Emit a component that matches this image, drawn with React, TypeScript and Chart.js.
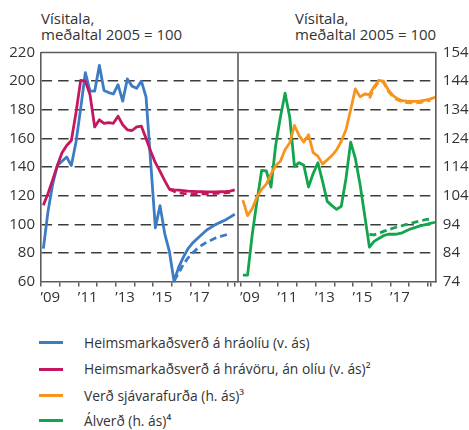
import React, { useEffect, useRef } from 'react';
import { Chart, registerables } from 'chart.js';

Chart.register(...registerables);

// ---- categories ----
const years = [2009, 2010, 2011, 2012, 2013, 2014, 2015, 2016, 2017, 2018, 2019];
const quarters: string[] = years
  .flatMap((y) => [1, 2, 3, 4].map((q) => `${y}Q${q}`))
  .slice(0, 42); // 2009Q1 .. 2019Q2

const labelYears = [2009, 2011, 2013, 2015, 2017];
const yearLabels = ['’09', '’11', '’13', '’15', '’17'];

const leftTicks = [60, 80, 100, 120, 140, 160, 180, 200, 220];
const rightTicks = [74, 84, 94, 104, 114, 124, 134, 144, 154];

// ---- series (quarterly, index 2005 = 100) ----
// Heimsmarkaðsverð á hráolíu (left axis)
const oil = [
  83, 109, 128, 141, 144, 147, 141, 157.5, 181, 206, 193, 193, 211, 193.5, 192, 191,
  197.5, 186, 201.5, 196.5, 195, 200, 189, 143, 97.5, 113, 93.5, 81, 60.2, 70, 77, 83,
  87, 90, 93, 96, 98, 100, 101.5, 103, 105, 107,
];
const oilPrev = [
  null, null, null, null, null, null, null, null, null, null, null, null, null, null, null, null,
  null, null, null, null, null, null, null, null, null, null, null, null, 60.5, 66, 72, 76.5,
  80, 83, 85.5, 87.5, 89, 90.5, 91.5, 92.5, 93.5, null,
];
// Heimsmarkaðsverð á hrávöru, án olíu (left axis)
const commodities = [
  113.3, 121.5, 131, 141, 150, 155, 158.5, 178, 200.5, 200, 190.5, 168, 173, 170.5, 171, 170.5,
  175.5, 169.5, 166, 165.5, 168, 168.5, 160, 151, 143, 137, 130.5, 124.5, 124, 123.8, 123.5, 123.2,
  123, 122.8, 122.7, 122.6, 122.6, 122.6, 122.7, 122.8, 123.2, 124,
];
const commoditiesPrev = [
  null, null, null, null, null, null, null, null, null, null, null, null, null, null, null, null,
  null, null, null, null, null, null, null, null, null, null, null, 124.5, 123, 122, 121.5, 121.3,
  121.2, 121.2, 121.2, 121.3, 121.4, 121.6, 121.8, 122, 122.3, null,
];
// Verð sjávarafurða (right axis)
const seafood = [
  102.4, 97, 99.5, 103.5, 106.2, 108, 111.5, 114.5, 116, 120, 122.5, 128.5, 125, 122.7, 125.3, 119,
  117.8, 115, 116.5, 118, 120, 123, 127, 134, 141.3, 138.5, 139.5, 139.3, 142, 144.3, 144, 141,
  139, 137.8, 137.2, 137, 136.9, 136.9, 137.1, 137.4, 137.8, 138.3,
];
const seafoodPrev = [
  null, null, null, null, null, null, null, null, null, null, null, null, null, null, null, null,
  null, null, null, null, null, null, null, null, null, null, null, 138, 141.5, 143.8, 143.6, 140.5,
  138.6, 137.5, 136.8, 136.5, 136.4, 136.4, 136.6, 136.9, 137.3, null,
];
// Álverð (right axis)
const aluminium = [
  76.2, 76.2, 90.5, 102, 112.8, 112.6, 107, 121.6, 131.4, 139.8, 131.4, 114.2, 115.5, 114.6, 107, 111.7,
  115.5, 109, 102, 100.5, 99.2, 100.3, 110, 122.7, 117, 108, 97, 86, 88, 89, 90, 90.5,
  90.5, 90.6, 91, 91.8, 92.5, 93, 93.5, 93.9, 94.3, 94.7,
];
const aluminiumPrev = [
  null, null, null, null, null, null, null, null, null, null, null, null, null, null, null, null,
  null, null, null, null, null, null, null, null, null, null, null, 90.5, 90.3, 90.8, 91.5, 92,
  92.6, 93.1, 93.5, 94, 94.4, 94.8, 95.2, 95.6, 95.9, null,
];

const legendItems = [
  { label: 'Heimsmarkaðsverð á hráolíu (v. ás)', color: '#3b7cc4' },
  { label: 'Heimsmarkaðsverð á hrávöru, án olíu (v. ás)²', color: '#c5175f' },
  { label: 'Verð sjávarafurða (h. ás)³', color: '#f7941d' },
  { label: 'Álverð (h. ás)⁴', color: '#13a54d' },
];

const FONT = "'Open Sans', sans-serif";
const AXIS = '#5c5c5c';
const GRID = '#3c3c3c';
const TEXT = '#333333';

function qx(label: string) {
  const [y, q] = label.split('Q').map(Number);
  return y + (q - 0.5) / 4;
}
function points(values: (number | null)[]) {
  return values.map((v, i) => ({ x: qx(quarters[i]), y: v }));
}
function line(values: (number | null)[], color: string, dashed: boolean) {
  return {
    data: points(values),
    borderColor: color,
    backgroundColor: color,
    borderWidth: 2.8,
    borderDash: dashed ? [7, 4] : [],
    borderJoinStyle: 'round' as const,
    pointRadius: 0,
    tension: 0,
    spanGaps: false,
    clip: 3,
  };
}

const framePlugin = {
  id: 'frame',
  beforeDatasetsDraw(chart: any, _args: any, opts: any) {
    const { ctx, chartArea: a } = chart;
    ctx.save();
    ctx.strokeStyle = AXIS;
    ctx.lineWidth = 1.6;
    ctx.beginPath();
    ctx.moveTo(a.left, a.top);
    ctx.lineTo(a.right, a.top);
    if (opts && opts.right) {
      ctx.moveTo(a.right, a.top);
      ctx.lineTo(a.right, a.bottom);
    }
    ctx.stroke();
    ctx.restore();
  },
};

function xScale(min: number, max: number, extra: number[]) {
  const tickVals = years.filter((y) => y >= min && y <= max).concat(extra);
  const labelVals = labelYears.map((y) => y + 0.5);
  const all = tickVals.concat(labelVals).sort((a, b) => a - b);
  return {
    type: 'linear' as const,
    min,
    max,
    afterBuildTicks: (s: any) => {
      s.ticks = all.map((v) => ({ value: v }));
    },
    afterFit: (s: any) => {
      s.height = 28.5;
    },
    grid: {
      drawOnChartArea: false,
      drawTicks: true,
      tickLength: 5,
      tickWidth: 1.5,
      lineWidth: 1.5,
      tickColor: (c: any) =>
        c.tick && labelVals.includes(c.tick.value) ? 'rgba(0,0,0,0)' : AXIS,
    },
    border: { display: true, color: AXIS, width: 1.6 },
    ticks: {
      autoSkip: false,
      maxRotation: 0,
      minRotation: 0,
      padding: 2,
      color: TEXT,
      font: { family: FONT, size: 15 },
      callback: (v: any) => {
        const i = labelVals.indexOf(Number(v));
        return i >= 0 ? yearLabels[i] : '';
      },
    },
  };
}

function yScale(min: number, max: number, ticks: number[], position: 'left' | 'right', width: number, padding: number) {
  return {
    type: 'linear' as const,
    position,
    min,
    max,
    afterBuildTicks: (s: any) => {
      s.ticks = ticks.map((v) => ({ value: v }));
    },
    afterFit: (s: any) => {
      s.width = width;
    },
    grid: {
      drawTicks: false,
      lineWidth: 1.5,
      color: (c: any) =>
        c.tick && (c.tick.value === min || c.tick.value === max) ? 'rgba(0,0,0,0)' : GRID,
    },
    border: { display: true, color: AXIS, width: 1.6, dash: [10.5, 6] },
    ticks: { padding, color: TEXT, font: { family: FONT, size: 15 } },
  };
}

function leftConfig(): any {
  return {
    type: 'line',
    data: {
      datasets: [
        line(commodities, legendItems[1].color, false),
        line(commoditiesPrev, legendItems[1].color, true),
        line(oil, legendItems[0].color, false),
        line(oilPrev, legendItems[0].color, true),
      ],
    },
    plugins: [framePlugin],
    options: {
      animation: false,
      responsive: false,
      layout: { padding: { top: 52.5, right: 2, left: 0, bottom: 0 } },
      plugins: { legend: { display: false }, tooltip: { enabled: false }, frame: { right: true } },
      scales: {
        x: xScale(2009, 2019.55, [2019.4]),
        y: yScale(60, 220, leftTicks, 'left', 41, 6),
      },
    },
  };
}

function rightConfig(): any {
  return {
    type: 'line',
    data: {
      datasets: [
        line(seafood, legendItems[2].color, false),
        line(seafoodPrev, legendItems[2].color, true),
        line(aluminium, legendItems[3].color, false),
        line(aluminiumPrev, legendItems[3].color, true),
      ],
    },
    plugins: [framePlugin],
    options: {
      animation: false,
      responsive: false,
      layout: { padding: { top: 52.5, right: 0, left: 2.3, bottom: 0 } },
      plugins: { legend: { display: false }, tooltip: { enabled: false }, frame: { right: false } },
      scales: {
        x: xScale(2008.88, 2019.39, [2019.15]),
        y: yScale(74, 154, rightTicks, 'right', 33.7, 7.5),
      },
    },
  };
}

export default function App() {
  const leftRef = useRef<HTMLCanvasElement>(null);
  const rightRef = useRef<HTMLCanvasElement>(null);

  useEffect(() => {
    const c1 = new Chart(leftRef.current as HTMLCanvasElement, leftConfig());
    const c2 = new Chart(rightRef.current as HTMLCanvasElement, rightConfig());
    return () => {
      c1.destroy();
      c2.destroy();
    };
  }, []);

  const titleStyle: React.CSSProperties = {
    position: 'absolute',
    top: 9.5,
    font: `15px ${FONT}`,
    lineHeight: '16px',
    color: TEXT,
    whiteSpace: 'nowrap',
  };
  const centers = [342.8, 369, 395.5, 420.5];

  return (
    <div style={{ position: 'absolute', left: 0, top: 0, width: 469, height: 430, background: '#fff', overflow: 'hidden' }}>
      <div style={{ ...titleStyle, left: 41 }}>
        Vísitala,
        <br />
        meðaltal 2005 = 100
      </div>
      <div style={{ ...titleStyle, left: 295 }}>
        Vísitala,
        <br />
        meðaltal 2005 = 100
      </div>
      <canvas ref={leftRef} width={240} height={310} style={{ position: 'absolute', left: 0, top: 0 }} />
      <canvas ref={rightRef} width={233} height={310} style={{ position: 'absolute', left: 236, top: 0 }} />
      {legendItems.map((it, i) => (
        <React.Fragment key={it.label}>
          <div
            style={{
              position: 'absolute',
              left: 39,
              top: centers[i] - 1.5,
              width: 24,
              height: 3,
              background: it.color,
            }}
          />
          <div
            style={{
              position: 'absolute',
              left: 84,
              top: centers[i] - 10,
              height: 20,
              lineHeight: '20px',
              font: `13.8px ${FONT}`,
              color: TEXT,
              whiteSpace: 'nowrap',
            }}
          >
            {it.label}
          </div>
        </React.Fragment>
      ))}
    </div>
  );
}
